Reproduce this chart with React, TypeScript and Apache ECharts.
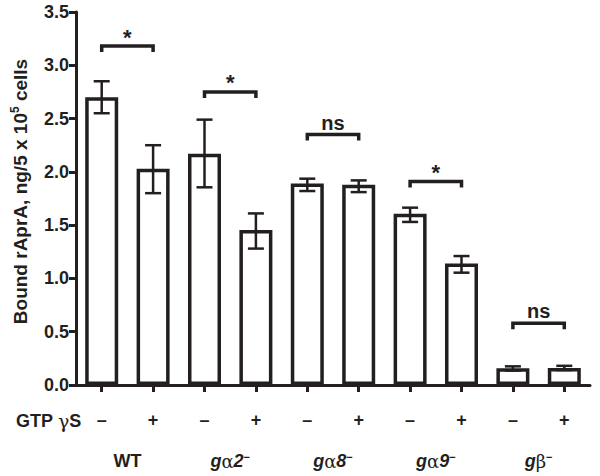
import React, { useEffect, useRef } from "react";
import * as echarts from "echarts";

const categories = ["WT-", "WT+", "ga2-", "ga2+", "ga8-", "ga8+", "ga9-", "ga9+", "gb-", "gb+"];
const treatments = ["–", "+", "–", "+", "–", "+", "–", "+", "–", "+"];
const groups = ["WT", "gα2⁻", "gα8⁻", "gα9⁻", "gβ⁻"];
const means = [2.7, 2.03, 2.17, 1.455, 1.89, 1.88, 1.607, 1.14, 0.157, 0.16];
const errLow = [2.55, 1.8, 1.855, 1.28, 1.82, 1.81, 1.53, 1.054, 0.135, 0.14];
const errHigh = [2.85, 2.25, 2.49, 1.61, 1.936, 1.92, 1.664, 1.21, 0.175, 0.18];
const bracketPairs = [
  [0, 1, 3.18],
  [2, 3, 2.75],
  [4, 5, 2.35],
  [6, 7, 1.91],
  [8, 9, 0.58],
];
const bracketLabels = ["*", "*", "ns", "*", "ns"];

const INK = "#231f20";
const FONT = "'Liberation Sans', Arial, Helvetica, sans-serif";

function groupLabel(v: string): string {
  if (v === "WT") return "{b|WT}";
  const g = v[0];
  const greek = v[1];
  const rest = v.slice(2).replace("⁻", "");
  let s = `{bi|${g}}{gr|${greek}}`;
  if (rest) s += `{bi|${rest}}`;
  s += `{sup|−}`;
  return s;
}

export default function App() {
  const ref = useRef<HTMLDivElement>(null);
  useEffect(() => {
    if (!ref.current) return;
    const chart = echarts.init(ref.current, null, { renderer: "svg" });
    const option: any = {
      animation: false,
      backgroundColor: "#ffffff",
      textStyle: { fontFamily: FONT },
      grid: { left: 76, right: 10, top: 12, bottom: 91, containLabel: false },
      xAxis: [
        {
          type: "category",
          data: categories,
          position: "bottom",
          axisLine: { show: true, lineStyle: { color: INK, width: 3 } },
          axisTick: { show: true, alignWithLabel: true, length: 7, lineStyle: { color: INK, width: 3 } },
          axisLabel: {
            interval: 0,
            margin: 26,
            color: INK,
            fontSize: 18,
            fontWeight: "bold",
            fontFamily: FONT,
            formatter: (_v: string, i: number) => treatments[i],
          },
        },
        {
          type: "category",
          data: groups,
          position: "bottom",
          offset: 0,
          axisLine: { show: false },
          axisTick: { show: false },
          axisLabel: {
            interval: 0,
            margin: 66,
            formatter: (v: string) => groupLabel(v),
            rich: {
              b: { fontSize: 18, fontWeight: "bold", color: INK, fontFamily: FONT, lineHeight: 20 },
              bi: { fontSize: 18, fontWeight: "bold", fontStyle: "italic", color: INK, fontFamily: FONT, lineHeight: 20 },
              gr: { fontSize: 18, fontWeight: "normal", color: INK, fontFamily: "'DejaVu Serif', serif", lineHeight: 20 },
              sup: { fontSize: 11, fontWeight: "bold", color: INK, fontFamily: FONT, verticalAlign: "top", lineHeight: 20 },
            },
          },
        },
      ],
      yAxis: {
        type: "value",
        min: 0,
        max: 3.5,
        interval: 0.5,
        splitLine: { show: false },
        axisLine: { show: true, lineStyle: { color: INK, width: 3 } },
        axisTick: { show: true, length: 7, lineStyle: { color: INK, width: 3 } },
        axisLabel: {
          margin: 7,
          color: INK,
          fontSize: 18,
          fontWeight: "bold",
          fontFamily: FONT,
          formatter: (v: number) => v.toFixed(1),
        },
        name: "{t|Bound rAprA, ng/5 x 10}{sup|5}{t| cells}",
        nameLocation: "middle",
        nameGap: 45,
        nameRotate: 90,
        nameTextStyle: {
          padding: [0, 0, 0, 14],
          rich: {
            t: { fontSize: 19, fontWeight: "bold", color: INK, fontFamily: FONT, lineHeight: 22 },
            sup: { fontSize: 12, fontWeight: "bold", color: INK, fontFamily: FONT, verticalAlign: "top", lineHeight: 22 },
          },
        },
      },
      graphic: [
        {
          type: "text",
          left: 16,
          top: 411,
          style: {
            text: "{b|GTP }{g|γ}{b|S}",
            rich: {
              b: { fontSize: 18, fontWeight: "bold", fill: INK, fontFamily: FONT, lineHeight: 20 },
              g: { fontSize: 19, fontWeight: "normal", fill: INK, fontFamily: "'DejaVu Serif', serif", lineHeight: 20 },
            },
          },
        },
      ],
      series: [
        {
          type: "bar",
          xAxisIndex: 0,
          data: means,
          barWidth: 33,
          itemStyle: { color: "#ffffff", borderColor: INK, borderWidth: 3.5 },
          z: 2,
        },
        {
          type: "custom",
          xAxisIndex: 0,
          data: means.map((_, i) => [i, errLow[i], errHigh[i]]),
          encode: { x: 0, y: [1, 2] },
          z: 3,
          renderItem: (_p: any, api: any) => {
            const x = api.value(0);
            const lo = api.coord([x, api.value(1)]);
            const hi = api.coord([x, api.value(2)]);
            const hw = 8;
            const st = { stroke: INK, lineWidth: 2.5 };
            return {
              type: "group",
              children: [
                { type: "line", shape: { x1: lo[0], y1: lo[1], x2: hi[0], y2: hi[1] }, style: st },
                { type: "line", shape: { x1: lo[0] - hw, y1: lo[1], x2: lo[0] + hw, y2: lo[1] }, style: st },
                { type: "line", shape: { x1: hi[0] - hw, y1: hi[1], x2: hi[0] + hw, y2: hi[1] }, style: st },
              ],
            };
          },
        },
        {
          type: "custom",
          xAxisIndex: 0,
          data: bracketPairs,
          encode: { x: [0, 1], y: 2 },
          z: 4,
          renderItem: (p: any, api: any) => {
            const a = api.coord([api.value(0), api.value(2)]);
            const b = api.coord([api.value(1), api.value(2)]);
            const label = bracketLabels[p.dataIndex];
            const isStar = label === "*";
            return {
              type: "group",
              children: [
                {
                  type: "polyline",
                  shape: { points: [[a[0], a[1] + 6], [a[0], a[1]], [b[0], b[1]], [b[0], b[1] + 6]] },
                  style: { stroke: INK, lineWidth: 3.5, fill: null },
                },
                {
                  type: "text",
                  style: {
                    text: label,
                    x: (a[0] + b[0]) / 2,
                    y: isStar ? a[1] - 9 : a[1] - 12,
                    align: "center",
                    verticalAlign: "middle",
                    fontSize: isStar ? 22 : 20,
                    fontWeight: "bold",
                    fontFamily: FONT,
                    fill: INK,
                  },
                },
              ],
            };
          },
        },
      ],
    };
    chart.setOption(option);
    return () => chart.dispose();
  }, []);
  return <div ref={ref} style={{ width: 600, height: 476, position: "absolute", left: 0, top: 0 }} />;
}
